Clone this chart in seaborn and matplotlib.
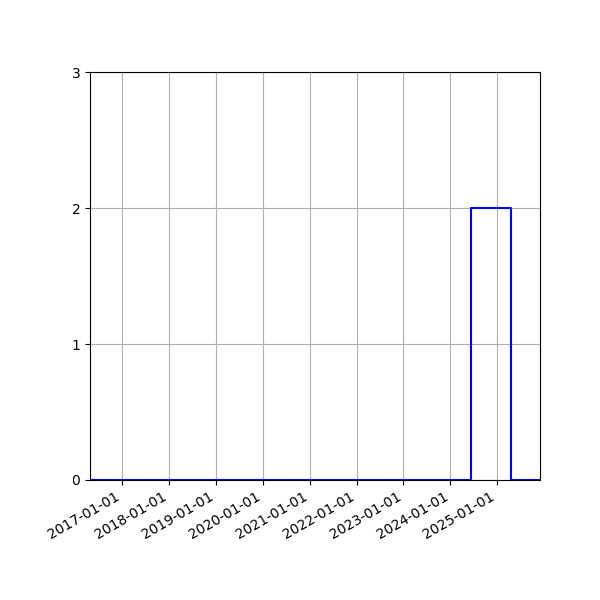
import pandas as pd
import matplotlib
matplotlib.use('Agg')
import matplotlib.pyplot as plt
import matplotlib.dates as mdates
import seaborn as sns

# change points of the step series (weekly dates, value holds until next date)
dates = ['2016-04-24', '2024-06-09', '2025-04-20', '2025-11-30']
counts = [0, 2, 0, 0]

df = pd.DataFrame({'date': pd.to_datetime(dates), 'count': counts})

fig, ax = plt.subplots(figsize=(6, 6), dpi=100)
sns.lineplot(data=df, x='date', y='count', drawstyle='steps-post',
             color='blue', linewidth=1.5, ax=ax)

ax.set_xlim(df['date'].min(), df['date'].max())
ax.set_ylim(0, 3)
ax.set_yticks([0, 1, 2, 3])
ax.xaxis.set_major_locator(mdates.YearLocator())
ax.xaxis.set_major_formatter(mdates.DateFormatter('%Y-%m-%d'))
ax.set_xlabel('')
ax.set_ylabel('')
ax.grid(True)
fig.autofmt_xdate()
fig.subplots_adjust(left=0.15, right=0.9, top=0.88, bottom=0.2)

plt.savefig('out.png')
